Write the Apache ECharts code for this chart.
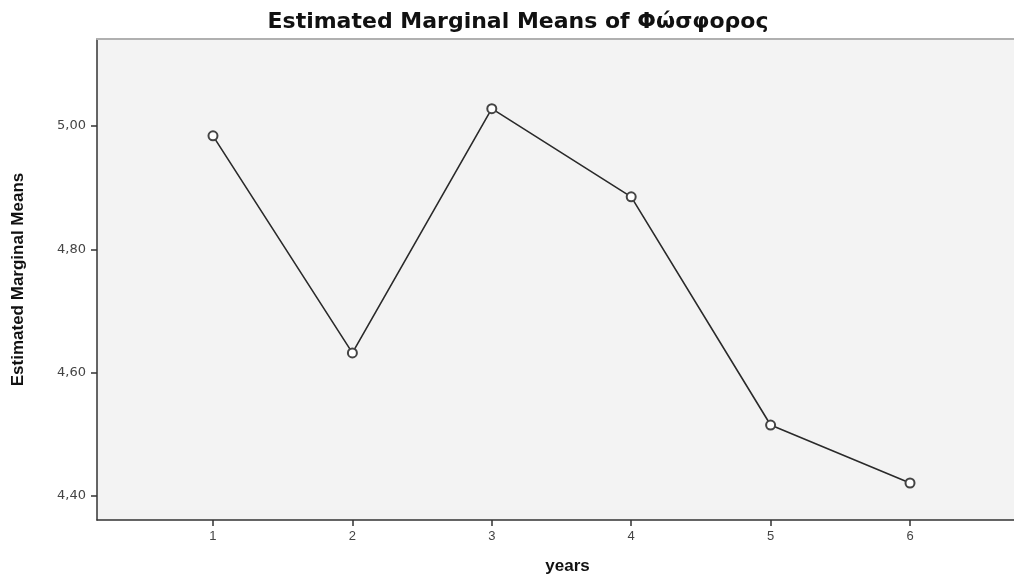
<!DOCTYPE html>
<html>
<head>
<meta charset="utf-8">
<script src="https://cdn.jsdelivr.net/npm/echarts@6/dist/echarts.min.js"></script>
<style>
  html, body { margin: 0; padding: 0; background: #fff; }
  #main { width: 1014px; height: 575px; }
</style>
</head>
<body>
<div id="main"></div>
<script>
  // years and their estimated marginal means
  const years = [1, 2, 3, 4, 5, 6]
  const means = [4.984, 4.632, 5.028, 4.885, 4.515, 4.421]
  const yTicks = [4.4, 4.6, 4.8, 5.0]

  const comma = v => v.toFixed(2).replace('.', ',')

  const chart = echarts.init(document.getElementById('main'))
  chart.setOption({
    animation: false,
    backgroundColor: '#ffffff',
    title: {
      text: 'Estimated Marginal Means of Φώσφορος',
      left: 513,
      textAlign: 'center',
      top: 6,
      textStyle: {
        fontFamily: 'DejaVu Sans, Liberation Sans',
        fontWeight: 'bold',
        fontSize: 22,
        color: '#111'
      }
    },
    grid: {
      left: 97,
      right: 0,
      top: 39,
      bottom: 55,
      outerBoundsMode: 'none',
      containLabel: false,
      show: true,
      backgroundColor: '#f3f3f3',
      borderWidth: 0
    },
    xAxis: [
      {
        type: 'value',
        min: 0.168,
        max: 6.746,
        name: 'years',
        nameLocation: 'middle',
        nameGap: 38,
        nameTextStyle: {
          fontFamily: 'Liberation Sans, Arial',
          fontWeight: 'bold',
          fontSize: 17,
          color: '#111',
          padding: [0, 0, 0, 24]
        },
        splitLine: { show: false },
        axisLine: { lineStyle: { color: '#333', width: 1.5 } },
        axisTick: {
          customValues: years,
          length: 6,
          lineStyle: { color: '#333', width: 1.5 }
        },
        axisLabel: {
          customValues: years,
          margin: 10,
          fontFamily: 'Liberation Sans, Arial',
          fontSize: 13,
          color: '#444'
        }
      },
      {
        type: 'value',
        position: 'top',
        min: 0.168,
        max: 6.746,
        axisLine: { lineStyle: { color: '#b0b0b0', width: 2 } },
        axisTick: { show: false },
        axisLabel: { show: false },
        splitLine: { show: false }
      }
    ],
    yAxis: {
      type: 'value',
      min: 4.361,
      max: 5.141,
      name: 'Estimated Marginal Means',
      nameLocation: 'middle',
      nameGap: 70,
      nameTextStyle: {
        fontFamily: 'Liberation Sans Narrow, Arial Narrow, Liberation Sans',
        fontWeight: 'bold',
        fontSize: 17,
        color: '#111'
      },
      splitLine: { show: false },
      axisLine: { show: true, lineStyle: { color: '#333', width: 1.5 } },
      axisTick: {
        show: true,
        customValues: yTicks,
        length: 6,
        lineStyle: { color: '#333', width: 1.5 }
      },
      axisLabel: {
        customValues: yTicks,
        margin: 11,
        fontFamily: 'DejaVu Sans, Liberation Sans',
        fontSize: 13,
        color: '#444',
        formatter: comma
      }
    },
    series: [
      {
        type: 'line',
        data: years.map((y, i) => [y, means[i]]),
        symbol: 'emptyCircle',
        symbolSize: 9,
        lineStyle: { color: '#2a2a2a', width: 1.6 },
        itemStyle: { color: '#444', borderColor: '#444', borderWidth: 1.2 }
      }
    ]
  })
</script>
</body>
</html>
